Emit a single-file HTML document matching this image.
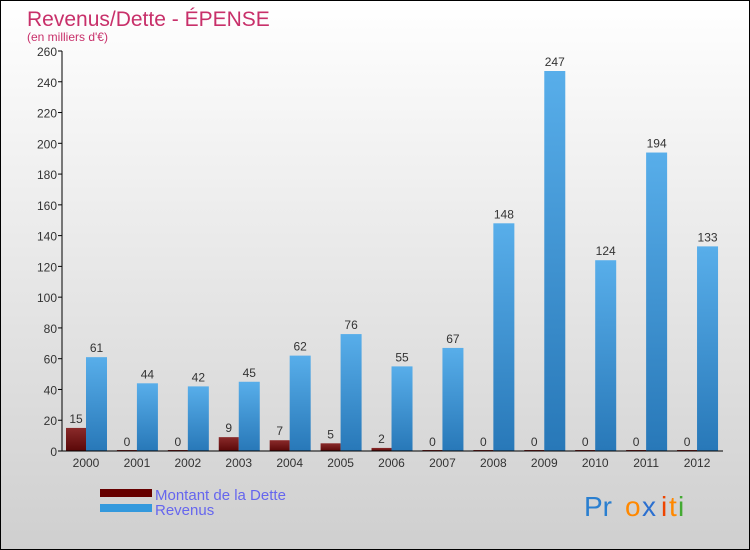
<!DOCTYPE html>
<html><head><meta charset="utf-8"><style>
body{margin:0}
#c{width:750px;height:550px;position:relative;box-sizing:border-box;border:1px solid #000;background:linear-gradient(#ffffff,#cfcfcf);font-family:"Liberation Sans",sans-serif;overflow:hidden}
</style></head><body>
<div id="c">
<svg width="748" height="548" style="position:absolute;left:0;top:0" id="s">
<defs>
<linearGradient id="gr" x1="0" x2="0" y1="0" y2="1"><stop offset="0" stop-color="#58aeea"/><stop offset="1" stop-color="#2878b8"/></linearGradient>
<linearGradient id="gd" x1="0" x2="0" y1="0" y2="1"><stop offset="0" stop-color="#8a2a2a"/><stop offset="1" stop-color="#5a0808"/></linearGradient>
</defs>
<text x="26" y="25" font-size="21" fill="#c8306a">Revenus/Dette - ÉPENSE</text>
<text x="26" y="40" font-size="12" fill="#c8306a">(en milliers d'€)</text>
<g id="plot"></g>
<rect x="99" y="488" width="52" height="8" fill="#660000"/>
<rect x="99" y="503" width="52" height="8" fill="#3399dd"/>
<text x="154" y="499" font-size="15" fill="#6666ee">Montant de la Dette</text>
<text x="154" y="514" font-size="15" fill="#6666ee">Revenus</text>
<g font-size="28" font-family="Liberation Sans, sans-serif">
<text x="583" y="515" fill="#2a7fd0">Pr</text><text x="624" y="515" fill="#ff8800">o</text><text x="641" y="515" fill="#2a6fd0">x</text><text x="660" y="515" fill="#ee4400">i</text><text x="668" y="515" fill="#ff8800">t</text><text x="677" y="515" fill="#44aa33">i</text>
</g>
</svg>
</div>
<script>
const years=["2000","2001","2002","2003","2004","2005","2006","2007","2008","2009","2010","2011","2012"];
const dette=[15,0,0,9,7,5,2,0,0,0,0,0,0];
const revenus=[61,44,42,45,62,76,55,67,148,247,124,194,133];
const yTicks=[0,20,40,60,80,100,120,140,160,180,200,220,240,260];
const NS="http://www.w3.org/2000/svg";
const g=document.getElementById('plot');
const y=v=>450-v*400/260;
const x=i=>85+i*50.92;
function mk(t,a,txt){const e=document.createElementNS(NS,t);for(const k in a)e.setAttribute(k,a[k]);if(txt!==undefined)e.textContent=txt;g.appendChild(e);return e;}
yTicks.forEach(v=>{
 const l=mk('line',{x1:57,x2:61,y1:y(v),y2:y(v),stroke:'#000'});
 
 
 const t=mk('text',{x:56,y:y(v)+5,'text-anchor':'end','font-size':12,fill:'#333'},v);
 
 
});
years.forEach((yr,i)=>{
 const c=x(i);
 const d=mk('rect',{x:c-20,y:y(dette[i])-(dette[i]===0?1:0),width:20,height:Math.max(1,dette[i]*400/260),fill:'url(#gd)'});
 
 
 const r=mk('rect',{x:c,y:y(revenus[i]),width:21,height:revenus[i]*400/260,fill:'url(#gr)'});
 
 
 const dl=mk('text',{x:c-10,y:y(dette[i])-5,'text-anchor':'middle','font-size':12,fill:'#333'},dette[i]);
 
 
 const rl=mk('text',{x:c+10.5,y:y(revenus[i])-5,'text-anchor':'middle','font-size':12,fill:'#333'},revenus[i]);
 
 
 const xl=mk('text',{x:c,y:466,'text-anchor':'middle','font-size':12,fill:'#333'},yr);
 
 
});
const ya=mk('line',{x1:61,x2:61,y1:50,y2:450,stroke:'#000'});


const xa=mk('line',{x1:61,x2:722,y1:450,y2:450,stroke:'#000'});


</script>
</body></html>
